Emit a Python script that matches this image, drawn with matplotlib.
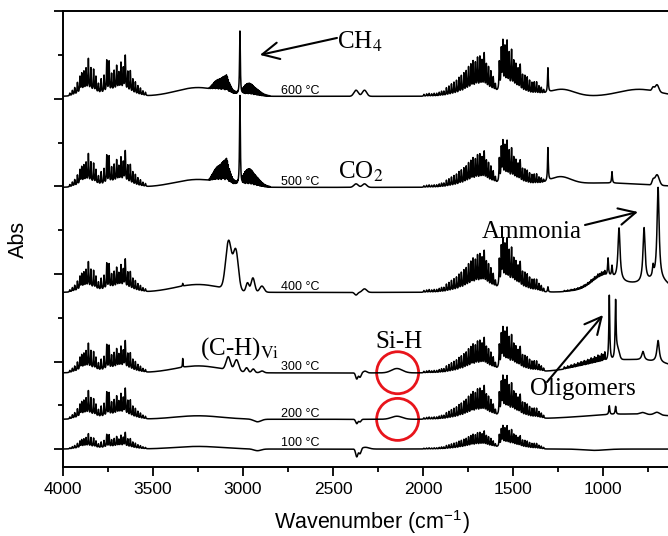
import numpy as np
import matplotlib
matplotlib.use("Agg")
import matplotlib.pyplot as plt
from matplotlib.patches import Ellipse
from matplotlib.ticker import MultipleLocator

plt.rcParams['font.family'] = ['Liberation Sans', 'DejaVu Sans']
plt.rcParams['mathtext.fontset'] = 'stix'

# ---------------------------------------------------------------- data
labels = ["600 °C", "500 °C", "400 °C", "300 °C", "200 °C", "100 °C"]
offsets = [4.03, 2.99, 1.79, 0.87, 0.34, 0.0]

# water vapour, O-H stretching region: line positions (cm-1) and relative heights
h2o_str_pos = [3962, 3948, 3935, 3920, 3906, 3896, 3884, 3872, 3859, 3845, 3830, 3817,
               3803, 3788, 3772, 3757, 3744, 3730, 3716, 3702, 3690, 3678, 3665, 3654,
               3640, 3626, 3612, 3598, 3584, 3570, 3556, 3542]
h2o_str_rel = [0.08, 0.15, 0.22, 0.35, 0.50, 0.58, 0.62, 0.70, 1.00, 0.72, 0.70, 0.50,
               0.30, 0.45, 0.55, 1.00, 0.95, 0.55, 0.63, 0.77, 0.55, 0.86, 0.70, 1.10,
               0.63, 0.68, 0.45, 0.38, 0.28, 0.22, 0.14, 0.10]
h2o_str_env = [(3862, 45, 0.12), (3690, 55, 0.14)]

# water vapour, H-O-H bending region
h2o_bend_pos = [1995, 1980, 1966, 1952, 1938, 1924, 1910, 1897, 1884, 1870, 1856, 1842,
                1828, 1814, 1800, 1787, 1773, 1760, 1747, 1734, 1722, 1709, 1697, 1684,
                1672, 1660, 1648, 1636, 1623, 1610, 1598, 1576, 1565, 1556, 1545, 1533,
                1521, 1508, 1496, 1484, 1472, 1460, 1447, 1434, 1421, 1408, 1395, 1382,
                1369, 1356, 1343, 1330]
h2o_bend_rel = [0.04, 0.05, 0.06, 0.05, 0.06, 0.06, 0.08, 0.10, 0.10, 0.17, 0.20, 0.24,
                0.27, 0.30, 0.35, 0.38, 0.42, 0.45, 0.52, 0.56, 0.62, 0.58, 0.68, 0.70,
                0.62, 0.78, 0.55, 0.50, 0.42, 0.30, 0.15, 0.60, 0.85, 1.00, 0.88, 1.00,
                0.75, 0.82, 0.60, 0.55, 0.47, 0.58, 0.38, 0.38, 0.36, 0.30, 0.26, 0.27,
                0.27, 0.18, 0.14, 0.08]
h2o_bend_env = [(1690, 70, 0.11), (1520, 55, 0.13)]

h2o_str_scale = [0.37, 0.33, 0.30, 0.29, 0.28, 0.15]
h2o_bend_scale = [0.53, 0.44, 0.51, 0.43, 0.41, 0.22]

# methane C-H stretching band, R and P branch lines
ch4_r_pos = [3188, 3183, 3177, 3172, 3166, 3161, 3156, 3150, 3145, 3140, 3134, 3129,
             3124, 3118, 3113, 3108, 3103, 3097, 3092, 3087, 3082, 3076, 3071, 3066,
             3061, 3056, 3050, 3045, 3040, 3035, 3029]
ch4_r_rel = [0.05, 0.10, 0.18, 0.25, 0.32, 0.40, 0.47, 0.53, 0.58, 0.62, 0.65, 0.68,
             0.72, 0.78, 0.82, 0.86, 0.90, 0.95, 1.00, 0.90, 0.75, 0.60, 0.50, 0.40,
             0.30, 0.22, 0.18, 0.15, 0.12, 0.10, 0.08]
ch4_p_pos = [3005, 3000, 2995, 2990, 2984, 2979, 2974, 2968, 2963, 2958, 2952, 2947,
             2942, 2936, 2931, 2926, 2920, 2915, 2910, 2904, 2899, 2893, 2888, 2883,
             2877, 2872, 2866, 2861, 2855, 2850]
ch4_p_rel = [0.20, 0.35, 0.45, 0.55, 0.60, 0.65, 0.68, 0.70, 0.70, 0.68, 0.65, 0.60,
             0.55, 0.50, 0.46, 0.42, 0.38, 0.34, 0.30, 0.26, 0.22, 0.18, 0.15, 0.12,
             0.10, 0.08, 0.06, 0.05, 0.04, 0.03]
ch4_scale = [0.19, 0.27, 0.0, 0.0, 0.0, 0.0]

# ammonia lines between 1220 and 990 cm-1
nh3_pos = [1215, 1205, 1196, 1186, 1177, 1168, 1159, 1149, 1140, 1131, 1122, 1112,
           1104, 1094, 1085, 1075, 1066, 1056, 1047, 1037, 1028, 1018, 1008, 998, 990]
nh3_rel = [0.25, 0.15, 0.30, 0.20, 0.35, 0.25, 0.40, 0.30, 0.45, 0.35, 0.50, 0.40,
           0.55, 0.45, 0.60, 0.50, 0.70, 0.55, 0.75, 0.60, 0.85, 0.70, 0.90, 0.75, 1.00]
nh3_scale = [0.0, 0.0, 0.05, 0.10, 0.0, 0.0]

# individual bands of each trace: (shape, centre, width, height)
bands_600 = [('g', 3250, 120, 0.10), ('g', 2372, 12, 0.07), ('g', 2325, 12, 0.07),
             ('l', 3017, 2.5, 0.73), ('l', 1306, 2.5, 0.28), ('g', 1230, 70, 0.08),
             ('g', 800, 110, 0.08), ('g', 700, 10, 0.08), ('g', 722, 6, 0.04)]
bands_500 = [('g', 3250, 130, 0.09), ('g', 2372, 12, 0.04), ('g', 2325, 12, 0.04),
             ('l', 3017, 2.5, 1.03), ('l', 1306, 2.5, 0.38), ('g', 1240, 60, 0.09),
             ('g', 1000, 250, 0.05), ('l', 950, 2.5, 0.13), ('g', 700, 12, 0.12),
             ('g', 722, 6, 0.05)]
bands_400 = [('g', 3250, 130, 0.09), ('l', 3335, 1.5, 0.03), ('g', 2372, 8, -0.03),
             ('g', 2325, 12, 0.04), ('g', 3080, 16, 0.55), ('g', 3040, 14, 0.45),
             ('g', 2975, 8, 0.10), ('g', 2945, 10, 0.16), ('g', 2895, 12, 0.07),
             ('l', 1306, 2.5, 0.06), ('g', 1000, 60, 0.12), ('g', 850, 160, 0.10),
             ('g', 690, 50, 0.08), ('l', 972, 3, 0.20), ('l', 950, 3, 0.12),
             ('l', 911, 7, 0.60), ('l', 772, 7, 0.62), ('l', 722, 4, 0.12),
             ('l', 694, 7, 1.05)]
bands_300 = [('g', 3250, 130, 0.08), ('l', 3335, 1.5, 0.10), ('g', 3082, 12, 0.15),
             ('g', 3036, 12, 0.13), ('g', 2980, 8, 0.05), ('g', 2943, 8, 0.04),
             ('g', 2894, 10, 0.02), ('g', 2368, 6, -0.07), ('g', 2350, 6, -0.05),
             ('g', 2322, 10, 0.02), ('g', 2145, 30, 0.05), ('g', 850, 230, 0.15),
             ('l', 965, 3, 0.75), ('l', 930, 3, 0.62), ('g', 920, 10, 0.12),
             ('l', 778, 8, 0.10), ('l', 694, 8, 0.25)]
bands_200 = [('g', 3250, 130, 0.04), ('g', 2920, 20, -0.03), ('g', 2368, 6, -0.05),
             ('g', 2350, 6, -0.03), ('g', 2145, 30, 0.035), ('g', 850, 250, 0.06),
             ('l', 965, 3, 0.10), ('l', 930, 3, 0.09), ('g', 780, 15, 0.02),
             ('g', 700, 15, 0.03)]
bands_100 = [('g', 3250, 130, 0.03), ('g', 2920, 20, -0.02), ('g', 2368, 6, -0.09),
             ('g', 2350, 6, -0.06), ('g', 2320, 20, 0.02), ('g', 1050, 60, -0.015)]
bands = [bands_600, bands_500, bands_400, bands_300, bands_200, bands_100]

# ---------------------------------------------------------------- build traces
wn = np.arange(4000.0, 599.0, -0.25)


def lorentz(c, w):
    return 1.0 / (1.0 + ((wn - c) / w) ** 2)


def gauss(c, s):
    return np.exp(-0.5 * ((wn - c) / s) ** 2)


def line_sum(pos, rel, w=2.2):
    out = np.zeros_like(wn)
    for p, r in zip(pos, rel):
        out += r * lorentz(p, w)
    return out


def env_sum(env):
    out = np.zeros_like(wn)
    for c, s, h in env:
        out += h * gauss(c, s)
    return out


h2o_str = line_sum(h2o_str_pos, h2o_str_rel) + env_sum(h2o_str_env)
h2o_bend = line_sum(h2o_bend_pos, h2o_bend_rel) + env_sum(h2o_bend_env)
ch4 = line_sum(ch4_r_pos, ch4_r_rel, 0.8) + line_sum(ch4_p_pos, ch4_p_rel, 0.8)
nh3 = line_sum(nh3_pos, nh3_rel, 1.5)

fig = plt.figure(figsize=(6.68, 5.36), dpi=100)
ax = fig.add_axes([63 / 668, 69 / 536, 617 / 668, 456 / 536])

for i in range(len(labels)):
    y = (offsets[i] + h2o_str_scale[i] * h2o_str + h2o_bend_scale[i] * h2o_bend
         + ch4_scale[i] * ch4 + nh3_scale[i] * nh3)
    for kind, c, w, h in bands[i]:
        y = y + h * (gauss(c, w) if kind == 'g' else lorentz(c, w))
    ax.plot(wn, y, color='black', lw=1.1)
    ax.text(2790, offsets[i] + 0.03, labels[i], fontsize=9, ha='left', va='baseline')

ax.set_xlim(4000, 4000 - 617 / 0.18)
ax.set_ylim(-0.205, 5.005)
ax.xaxis.set_major_locator(MultipleLocator(500))
ax.xaxis.set_minor_locator(MultipleLocator(250))
ax.yaxis.set_major_locator(MultipleLocator(1))
ax.yaxis.set_minor_locator(MultipleLocator(0.5))
ax.set_yticklabels([])
ax.tick_params(which='major', direction='out', length=6.5, width=1.3, labelsize=12.5, pad=4)
ax.tick_params(which='minor', direction='out', length=3.6, width=1.3)
for sp in ax.spines.values():
    sp.set_linewidth(1.4)

ax.set_xlabel("Wavenumber (cm$^{\\mathregular{-1}}$)", fontsize=15.5, labelpad=8.5)
ax.set_ylabel("Abs", fontsize=15.5, labelpad=14)

serif = dict(fontfamily='Liberation Serif', fontsize=18)
ax.text(2478, 4.571, "CH$_4$", ha='left', va='baseline', **serif)
ax.text(2472, 3.086, "CO$_2$", ha='left', va='baseline', **serif)
ax.text(1672, 2.41, "Ammonia", ha='left', va='baseline', **serif)
ax.text(3239, 1.074, "(C-H)$_{\\mathrm{Vi}}$", ha='left', va='baseline', **serif)
ax.text(2267, 1.154, "Si-H", ha='left', va='baseline', **serif)
ax.text(1406, 0.617, "Oligomers", ha='left', va='baseline', **serif)

arrow = dict(arrowstyle='->,head_length=0.6,head_width=0.3', lw=1.5, color='black',
             mutation_scale=20, shrinkA=0, shrinkB=0)
ax.annotate("", xy=(2906, 4.503), xytext=(2478, 4.697), arrowprops=arrow)
ax.annotate("", xy=(806, 2.709), xytext=(1100, 2.56), arrowprops=arrow)
ax.annotate("", xy=(1000, 1.531), xytext=(1311, 0.766), arrowprops=arrow)

# red circles around the Si-H band
px_per_wn = 0.18
px_per_y = 456 / 5.21
for yc in (0.872, 0.339):
    ax.add_patch(Ellipse((2141, yc), 42 / px_per_wn, 42 / px_per_y, fill=False,
                         edgecolor='#e8141b', lw=2.0))

fig.savefig("out.png", dpi=100)
